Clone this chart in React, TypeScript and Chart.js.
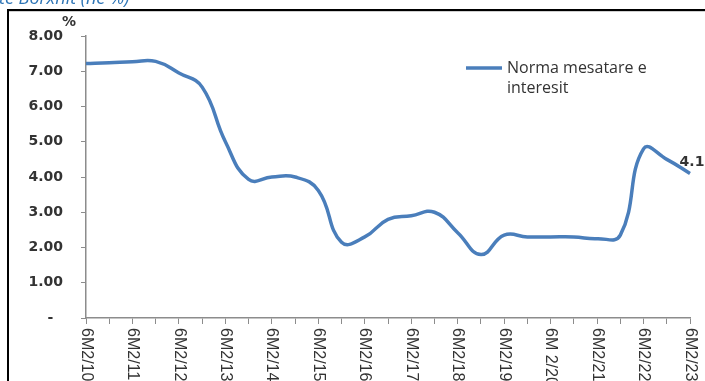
import React, { useEffect, useRef } from 'react';
import { Chart, registerables } from 'chart.js';

Chart.register(...registerables);

// ---- data ----
const categories = [
  '6M2/10', '6M1/11', '6M2/11', '6M1/12', '6M2/12', '6M1/13', '6M2/13', '6M1/14', '6M2/14',
  '6M1/15', '6M2/15', '6M1/16', '6M2/16', '6M1/17', '6M2/17', '6M1/18', '6M2/18', '6M1/19',
  '6M2/19', '6M1/20', '6M 2/20', '6M1/21', '6M2/21', '6M1/22', '6M2/22', '6M1/23', '6M2/23',
];
const rateValues = [
  7.22, 7.24, 7.27, 7.28, 6.95, 6.55, 5.0, 3.93, 4.0,
  4.0, 3.62, 2.15, 2.3, 2.8, 2.9, 3.0, 2.42, 1.8,
  2.35, 2.3, 2.3, 2.3, 2.25, 2.35, 4.8, 4.5, 4.1,
];
const seriesNameLines = ['Norma mesatare e', 'interesit'];
const endValueLabel = '4.1';
const yUnitLabel = '%';
const titleFragment = 'te Borxhit (në %)';

const LINE_COLOR = '#4a7ebb';
const AXIS_COLOR = '#8c8c8c';
const TEXT_COLOR = '#333333';

const overlayPlugin = {
  id: 'overlay',
  beforeDraw(chart: any) {
    const ctx = chart.ctx;
    ctx.save();
    ctx.fillStyle = '#ffffff';
    ctx.fillRect(0, 0, chart.width, chart.height);
    // frame
    ctx.fillStyle = '#000000';
    ctx.fillRect(7, 9, chart.width - 7, 2);
    ctx.fillRect(7, 9, 2, chart.height - 9);
    ctx.fillStyle = '#cfcfcf';
    ctx.fillRect(9, 11, chart.width - 9, 1);
    // title fragment (cut off)
    ctx.fillStyle = '#2e75b6';
    ctx.font = 'italic 18px "Open Sans"';
    ctx.textAlign = 'left';
    ctx.textBaseline = 'alphabetic';
    ctx.fillText(titleFragment, -1, 4);
    ctx.restore();
  },
  afterDraw(chart: any) {
    const ctx = chart.ctx;
    const xs = chart.scales.x;
    const ys = chart.scales.y;
    ctx.save();
    // x labels rotated clockwise
    ctx.fillStyle = TEXT_COLOR;
    ctx.font = '16px "Liberation Sans"';
    ctx.textAlign = 'left';
    ctx.textBaseline = 'middle';
    categories.forEach((c, i) => {
      if (i % 2 !== 0) return;
      const x = xs.getPixelForValue(i);
      ctx.save();
      ctx.translate(x, ys.bottom + 10);
      ctx.rotate(Math.PI / 2);
      ctx.fillText(c, 0, 0);
      ctx.restore();
    });
    // unit label
    ctx.font = 'bold 14px "DejaVu Sans"';
    ctx.textAlign = 'center';
    ctx.fillText(yUnitLabel, 69, 22);
    // end value label
    const last = rateValues.length - 1;
    const lx = xs.getPixelForValue(last);
    const ly = ys.getPixelForValue(rateValues[last]);
    ctx.fillText(endValueLabel, lx + 2, ly - 11);
    // legend
    ctx.strokeStyle = LINE_COLOR;
    ctx.lineWidth = 3.5;
    ctx.lineCap = 'butt';
    ctx.beginPath();
    ctx.moveTo(466, 68);
    ctx.lineTo(502, 68);
    ctx.stroke();
    ctx.fillStyle = TEXT_COLOR;
    ctx.font = '16px "Open Sans"';
    ctx.textAlign = 'left';
    ctx.textBaseline = 'middle';
    seriesNameLines.forEach((t, i) => ctx.fillText(t, 507, 68 + i * 20));
    ctx.restore();
  },
};

export default function App() {
  const ref = useRef<HTMLCanvasElement>(null);
  useEffect(() => {
    if (!ref.current) return;
    const chart = new Chart(ref.current, {
      type: 'line',
      data: {
        labels: categories,
        datasets: [
          {
            label: seriesNameLines.join(' '),
            data: rateValues,
            borderColor: LINE_COLOR,
            borderWidth: 3.5,
            pointRadius: 0,
            tension: 0.45,
            fill: false,
          },
        ],
      },
      options: {
        animation: false,
        responsive: false,
        maintainAspectRatio: false,
        layout: { padding: { top: 36, right: 15, bottom: 0, left: 0 } },
        plugins: { legend: { display: false }, tooltip: { enabled: false } },
        scales: {
          x: {
            type: 'category',
            offset: false,
            grid: { display: true, drawOnChartArea: false, tickLength: 6, color: AXIS_COLOR },
            border: { display: true, color: AXIS_COLOR, width: 1.5 },
            ticks: { display: false, autoSkip: false },
            afterFit: (s: any) => { s.height = 63; },
          },
          y: {
            min: 0,
            max: 8,
            grid: { display: true, drawOnChartArea: false, tickLength: 5, color: AXIS_COLOR },
            border: { display: true, color: AXIS_COLOR, width: 1.5 },
            ticks: {
              stepSize: 1,
              padding: 18,
              color: TEXT_COLOR,
              font: { family: 'DejaVu Sans', size: 14, weight: 'bold' },
              callback: (v: any) => (Number(v) === 0 ? '-\u2007' : Number(v).toFixed(2)),
            },
            afterFit: (s: any) => { s.width = 86; },
          },
        },
      },
      plugins: [overlayPlugin],
    } as any);
    return () => chart.destroy();
  }, []);
  return (
    <div style={{ position: 'absolute', left: 0, top: 0, width: 705, height: 381, overflow: 'hidden', background: '#fff' }}>
      <canvas ref={ref} width={705} height={381} style={{ display: 'block', width: 705, height: 381 }} />
    </div>
  );
}
